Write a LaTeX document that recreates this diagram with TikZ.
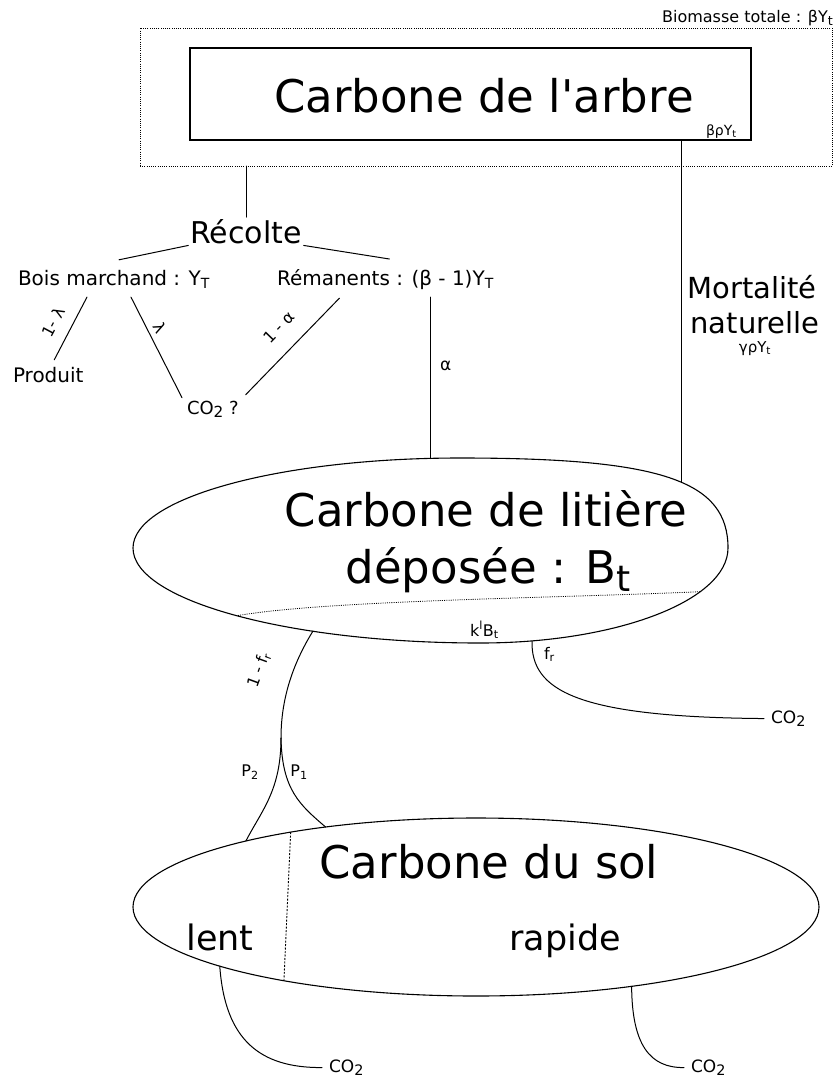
\documentclass[tikz,border=0pt]{standalone}
\usepackage{fontspec}
\setmainfont{DejaVu Sans}
\usetikzlibrary{calc,shapes.geometric}
\newcommand\fs[1]{\fontsize{#1}{#1}\selectfont}
\newcommand\lo[1]{\raisebox{-0.35ex}{\scalebox{0.8}{#1}}}
\newcommand\cotwo{CO\raisebox{-0.4ex}{\scalebox{0.85}{2}}}
\newcommand\sbs[1]{\textsubscript{#1}}
\begin{document}
\begin{tikzpicture}[x=1pt,y=-1pt,
  every node/.style={inner sep=2pt, outer sep=0pt},
  conn/.style={line width=1pt, line cap=round},
  ell/.style={draw, ellipse, inner sep=0pt, outer sep=0pt, line width=1.1pt},
  outline/.style={draw, line width=1.1pt},
  dotline/.style={line width=0.8pt, dash pattern=on 1pt off 1.2pt},
  co2/.style={inner xsep=7pt, inner ysep=2pt, font=\fs{17}},
  lbl/.style={font=\fs{16}}]
\fill[white] (0,0) rectangle (840,1080);
\useasboundingbox (0,0) rectangle (840,1080);

% tree
\node[draw, dotline, minimum width=692pt, minimum height=138pt, inner sep=0pt] (biomass) at (486,97) {};
\node[anchor=base east, font=\fs{16}] (biotxt) at (835,22) {Biomasse totale : βY\lo{t}};
\node[draw, line width=1.3pt, minimum width=561pt, minimum height=92pt, inner sep=0pt] (tree) at (470.5,94) {};
\node[anchor=base, font=\fs{45}] (treetxt) at (484,112) {Carbone de l\textquotesingle arbre};
\node[anchor=base west, font=\fs{14}] (brt) at (704,135) {βρY\sbs{t}};

% harvest
\node[anchor=base, font=\fs{30}] (recolte) at (246,243) {Récolte};
\node[anchor=base west, font=\fs{20}] (bois) at (16,285) {Bois marchand : Y\sbs{T}};
\node[anchor=base west, font=\fs{20}] (rem) at (275,285) {Rémanents : (β - 1)Y\sbs{T}};
\node[anchor=base west, font=\fs{20}] (produit) at (11,382) {Produit};
\node[anchor=base west, font=\fs{18}] (co2q) at (185,414) {\cotwo{} ?};

\draw[conn] (biomass.south -| recolte.north) -- (recolte.north);
\draw[conn] (recolte.south west) -- ($(bois.north)+(5,-8)$);
\draw[conn] (recolte.south east) -- ($(rem.north)+(4,-8)$);
\draw[conn] ($(bois.south)+(-27,7)$) -- ($(produit.north)+(6,-5)$);
\draw[conn] ($(bois.south)+(17,7)$) -- ($(co2q.north west)+(-3,-1)$);
\draw[conn] ($(co2q.north east)+(5,-4)$) -- ($(rem.south)+(-46,7)$);

\node[lbl, rotate=62] (l1) at (53,322) {1- λ};
\node[lbl, rotate=-62] (l2) at (160,328) {λ};
\node[lbl, rotate=46] (l3) at (279,327) {1 - α};
\node[anchor=base west, font=\fs{17}] (alab) at (438,370) {α};

% mortality
\node[anchor=base, font=\fs{29}] (mort1) at (752,298) {Mortalité};
\node[anchor=base, font=\fs{29}] (mort2) at (755,333) {naturelle};
\node[anchor=base, font=\fs{15}] (mort3) at (755,352) {γρY\sbs{t}};

% litter compartment
\draw[outline] (133,548) .. controls (133,498) and (279.5,458) .. (460,458)
  .. controls (661,458) and (728,480.5) .. (728,548)
  .. controls (728,600.4) and (617,643) .. (480,643)
  .. controls (288.5,643) and (133,600.4) .. cycle;
\coordinate (litAlpha) at (430,458.5);
\coordinate (litMort) at (681,482);
\coordinate (litDL) at (238,615.5);
\coordinate (litDR) at (700,591.7);
\coordinate (litF1) at (313,631);
\coordinate (litFr) at (532,641);
\node[anchor=base, font=\fs{45}] (littxt1) at (486,526) {Carbone de litière};
\node[anchor=base, font=\fs{45}] (littxt2) at (488,583) {déposée : B\lo{t}};
\draw[dotline] (litDL) .. controls (330,600) and (560,598) .. (litDR);
\node[anchor=base west, lbl] (klbt) at (468,636) {k\textsuperscript{l}B\sbs{t}};

\draw[conn] (rem.south -| litAlpha) ++(0,6) -- (litAlpha);
\draw[conn] (tree.south -| litMort) -- (litMort);

% soil
\node[ell, minimum width=686pt, minimum height=178pt] (sol) at (476,907) {};
\node[anchor=base, font=\fs{45}] (soltxt) at (489,878) {Carbone du sol};
\node[anchor=base, font=\fs{35}] (lent) at (220,950) {lent};
\node[anchor=base, font=\fs{35}] (rapide) at (565,950) {rapide};
\draw[line width=0.9pt, dash pattern=on 2pt off 1.5pt] (sol.158.5) -- (sol.201.5);

% litter -> soil
\coordinate (J) at (281,738);
\draw[conn] (litF1) .. controls (292,665) and (281,700) .. (J);
\draw[conn] (J) .. controls (281,790) and (262,810) .. (sol.164.7);
\draw[conn] (J) .. controls (282,790) and (300,805) .. (sol.152.7);
\node[lbl, rotate=70] (fr1) at (259,670) {1 - f\sbs{r}};
\node[lbl] (p2) at (250,772) {P\sbs{2}};
\node[lbl] (p1) at (299,772) {P\sbs{1}};

% CO2 outlets
\node[co2, anchor=base west] (co2a) at (764,723) {\cotwo};
\draw[conn] (litFr) .. controls (531,690) and (575,717) .. (co2a.west);
\node[anchor=base west, lbl] (frl) at (542,659) {f\sbs{r}};

\node[co2, anchor=base west] (co2b) at (322,1072) {\cotwo};
\draw[conn] (sol.193.6) .. controls (225,1040) and (260,1068) .. (co2b.west);

\node[co2, anchor=base west] (co2c) at (684,1072) {\cotwo};
\draw[conn] (sol.-27.1) .. controls (632,1045) and (650,1068) .. (co2c.west);
\end{tikzpicture}
\end{document}
